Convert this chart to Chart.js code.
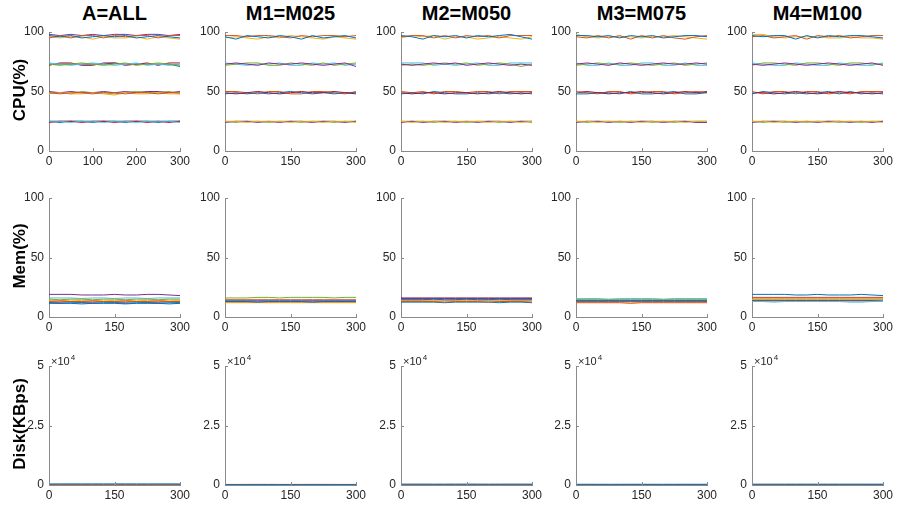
<!DOCTYPE html>
<html>
<head>
<meta charset="utf-8">
<script src="https://cdn.jsdelivr.net/npm/chart.js@4.4.1/dist/chart.umd.min.js"></script>
<style>
  body { margin: 0; background: #fff; }
  #page { position: relative; width: 897px; height: 507px; overflow: hidden; font-family: "Liberation Sans", Arial, sans-serif; }
  .title { position: absolute; font-weight: bold; font-size: 20px; color: #000; text-align: center; width: 160px; }
  .rowlab { position: absolute; font-weight: bold; font-size: 17px; color: #000; white-space: nowrap; transform: translate(-50%, -50%) rotate(-90deg); }
  canvas { position: absolute; }
</style>
</head>
<body>
<div id="page"></div>
<script>
// x positions of the samples (seconds)
const xVals = [0, 25, 50, 75, 100, 125, 150, 175, 200, 225, 250, 275, 300];

const colNames = ['A=ALL', 'M1=M025', 'M2=M050', 'M3=M075', 'M4=M100'];
const rowNames = ['CPU(%)', 'Mem(%)', 'Disk(KBps)'];
const cpuXStep = [100, 150, 150, 150, 150];

// CPU(%) - one array of lines per panel
const cpuAll = [
  [97, 96, 97, 95, 96, 97, 96, 97, 95, 96, 97, 96, 95],
  [95, 97, 95, 97, 97, 95, 97, 96, 97, 97, 95, 97, 97],
  [96, 95, 96, 96, 94, 96, 95, 95, 96, 94, 96, 95, 94],
  [98, 97, 98, 97, 98, 97, 98, 98, 97, 98, 98, 97, 98],
  [73, 72, 73, 74, 73, 72, 73, 74, 72, 73, 74, 73, 72],
  [74, 73, 72, 73, 74, 73, 72, 73, 74, 72, 73, 72, 73],
  [72, 74, 74, 72, 72, 74, 74, 72, 73, 74, 72, 74, 74],
  [73, 73, 73, 73, 73, 73, 74, 73, 73, 73, 73, 73, 71],
  [49, 48, 49, 49, 48, 49, 49, 48, 49, 49, 48, 49, 49],
  [48, 49, 48, 48, 49, 48, 47, 49, 48, 48, 49, 48, 48],
  [50, 49, 50, 49, 49, 50, 49, 50, 49, 50, 50, 49, 50],
  [49, 49, 48, 50, 49, 49, 48, 49, 50, 49, 49, 50, 48],
  [25, 25, 24, 25, 25, 24, 25, 25, 24, 25, 25, 25, 24],
  [24, 25, 25, 24, 25, 25, 24, 25, 25, 24, 25, 24, 25],
  [25, 24, 25, 25, 24, 25, 25, 24, 25, 25, 24, 25, 25],
  [25, 25, 25, 25, 25, 25, 25, 25, 25, 25, 25, 25, 25]
];
const cpuM025 = [
  [96, 94, 97, 96, 95, 97, 96, 94, 97, 95, 96, 97, 95],
  [97, 97, 96, 97, 97, 96, 95, 97, 96, 97, 97, 96, 97],
  [95, 96, 95, 94, 96, 95, 97, 96, 95, 94, 96, 95, 94],
  [73, 74, 73, 72, 74, 73, 73, 74, 73, 72, 73, 74, 71],
  [72, 73, 74, 74, 72, 72, 74, 73, 72, 74, 72, 73, 74],
  [74, 73, 72, 73, 73, 74, 72, 72, 74, 73, 74, 72, 73],
  [49, 48, 49, 50, 49, 48, 49, 50, 49, 49, 50, 49, 48],
  [48, 49, 48, 49, 48, 49, 50, 49, 48, 49, 48, 49, 49],
  [50, 50, 49, 48, 50, 50, 48, 48, 50, 50, 49, 48, 50],
  [25, 25, 24, 25, 25, 25, 24, 25, 25, 24, 25, 25, 24],
  [24, 25, 25, 24, 25, 24, 25, 25, 24, 25, 25, 24, 25],
  [25, 24, 25, 25, 24, 25, 25, 24, 25, 25, 24, 25, 25]
];
const cpuM050 = [
  [97, 96, 94, 97, 96, 97, 95, 97, 96, 97, 98, 96, 94],
  [96, 97, 97, 95, 97, 95, 97, 96, 97, 95, 97, 97, 97],
  [95, 97, 96, 97, 94, 96, 96, 94, 95, 96, 95, 94, 96],
  [73, 72, 73, 74, 73, 74, 72, 73, 74, 73, 72, 73, 72],
  [72, 73, 72, 73, 74, 73, 74, 72, 73, 74, 73, 71, 73],
  [74, 74, 74, 72, 73, 72, 73, 74, 72, 72, 74, 74, 74],
  [49, 48, 49, 49, 48, 49, 49, 48, 49, 50, 49, 48, 49],
  [48, 49, 48, 50, 49, 48, 48, 49, 48, 49, 48, 49, 48],
  [50, 49, 50, 48, 50, 50, 49, 50, 50, 48, 50, 50, 50],
  [25, 24, 25, 25, 24, 25, 25, 25, 24, 25, 25, 24, 25],
  [24, 25, 24, 25, 25, 24, 25, 24, 25, 25, 24, 25, 25],
  [25, 25, 25, 24, 25, 25, 24, 25, 25, 24, 25, 25, 24]
];
const cpuM075 = [
  [97, 97, 96, 97, 95, 97, 96, 97, 95, 96, 97, 97, 96],
  [96, 95, 97, 95, 97, 94, 97, 95, 97, 95, 94, 96, 97],
  [98, 96, 95, 96, 96, 96, 95, 96, 96, 97, 96, 95, 94],
  [73, 74, 73, 72, 74, 73, 72, 73, 74, 73, 73, 74, 73],
  [72, 73, 74, 73, 73, 74, 73, 72, 73, 74, 72, 73, 74],
  [74, 72, 72, 74, 72, 72, 74, 74, 72, 72, 74, 72, 72],
  [49, 50, 49, 48, 49, 49, 50, 49, 48, 49, 50, 49, 50],
  [48, 48, 49, 49, 48, 50, 48, 48, 49, 50, 48, 48, 49],
  [50, 49, 48, 50, 50, 48, 49, 50, 50, 48, 49, 50, 49],
  [25, 25, 24, 25, 25, 25, 24, 25, 25, 25, 24, 25, 25],
  [24, 25, 25, 24, 25, 24, 25, 25, 24, 25, 25, 24, 24],
  [25, 24, 25, 25, 24, 25, 25, 24, 25, 24, 25, 25, 25]
];
const cpuM100 = [
  [97, 96, 97, 97, 94, 97, 95, 97, 96, 97, 97, 96, 95],
  [96, 97, 95, 96, 97, 94, 97, 96, 97, 95, 96, 97, 97],
  [98, 98, 96, 95, 96, 96, 96, 95, 95, 96, 95, 95, 94],
  [73, 72, 73, 74, 73, 72, 73, 74, 73, 72, 73, 74, 72],
  [72, 74, 74, 73, 72, 74, 74, 73, 72, 74, 74, 73, 73],
  [74, 73, 72, 72, 74, 73, 72, 72, 74, 73, 72, 72, 74],
  [49, 49, 48, 49, 50, 49, 48, 49, 50, 49, 49, 48, 49],
  [48, 50, 49, 48, 49, 48, 49, 50, 48, 50, 48, 49, 48],
  [50, 48, 50, 50, 48, 50, 50, 48, 49, 48, 50, 50, 50],
  [25, 25, 24, 25, 25, 25, 25, 24, 25, 25, 25, 25, 24],
  [24, 25, 25, 25, 24, 25, 24, 25, 25, 24, 25, 24, 25],
  [25, 24, 25, 24, 25, 24, 25, 25, 24, 25, 24, 25, 25]
];

// Mem(%)
const memAll = [
  [12, 11.5, 12, 12, 11.5, 12, 12, 11.5, 12, 12, 11.5, 12, 12],
  [13, 13.5, 13, 13, 13.5, 13, 13, 13.5, 13, 13, 13.5, 13, 13],
  [14, 14, 13.5, 14, 14, 13.5, 14, 14, 13.5, 14, 14, 13.5, 14],
  [19, 19, 19, 18.5, 18.5, 18.5, 19, 18.5, 18.5, 19, 19, 18.5, 18],
  [15, 14.5, 15, 15, 14.5, 15, 15, 14.5, 15, 15, 14.5, 15, 15],
  [16, 16, 16, 15.5, 16, 16, 15.5, 16, 16, 15.5, 16, 16, 16],
  [12.5, 12.5, 13, 12.5, 12.5, 13, 12.5, 12.5, 13, 12.5, 12.5, 13, 12.5],
  [11.5, 11.5, 11.5, 11, 11.5, 11.5, 11.5, 11, 11.5, 11.5, 11.5, 11, 11.5]
];
const memM025 = [
  [13, 13, 13, 12.5, 13, 13, 13, 13, 12.5, 13, 13, 13, 13],
  [14.5, 14.5, 14.5, 14.5, 14.5, 14.5, 14.5, 14.5, 14.5, 14.5, 14.5, 14.5, 14.5],
  [12, 12, 12, 12, 12, 12, 12, 12, 12, 12, 12, 12, 12],
  [13.5, 13.5, 13.5, 13.5, 13.5, 13.5, 13.5, 13.5, 13.5, 13.5, 13.5, 13.5, 13.5],
  [16, 16, 16, 16.5, 16.5, 16, 16.5, 16.5, 16.5, 16.5, 16, 16.5, 16.5],
  [14, 14, 14, 14, 14, 14, 14, 14, 14, 14, 14, 14, 14],
  [12.5, 12.5, 12.5, 12.5, 12.5, 12.5, 12.5, 12.5, 12.5, 12.5, 12.5, 12.5, 12.5]
];
const memM050 = [
  [14.5, 14.5, 14.5, 15, 14.5, 14.5, 15, 14.5, 14.5, 15, 14.5, 14.5, 14.5],
  [13, 13, 13, 13, 12.5, 13, 13, 13, 12.5, 13, 13, 13, 12.5],
  [14, 14, 14, 14, 14, 14, 14, 14, 14, 14, 14, 14, 14],
  [15.5, 15.5, 15.5, 15.5, 15.5, 15.5, 15.5, 15.5, 15.5, 15.5, 15.5, 15.5, 15.5],
  [15, 15, 15, 15, 15.5, 15, 15, 15, 15, 15, 15, 15, 15],
  [13.5, 13.5, 13.5, 13.5, 13.5, 13.5, 13.5, 13.5, 13.5, 13.5, 13.5, 13.5, 13.5],
  [16, 16, 16, 16, 16, 16, 16, 16, 16, 16, 16, 16, 16],
  [12.5, 12.5, 12.5, 12.5, 12, 12.5, 12.5, 12.5, 12.5, 12, 12.5, 12.5, 12]
];
const memM075 = [
  [13.5, 13.5, 13.5, 13.5, 13.5, 13.5, 13.5, 13.5, 13.5, 13.5, 13.5, 13.5, 13.5],
  [12, 12, 12, 12, 12, 11.5, 12, 12, 12, 12, 12, 12, 12],
  [12.5, 12.5, 12.5, 12.5, 12.5, 12.5, 12.5, 12.5, 12.5, 12.5, 12.5, 12.5, 12.5],
  [13, 13, 13, 13, 13, 13, 13, 13, 13, 13, 13, 13, 13],
  [14.5, 14.5, 14.5, 14.5, 14.5, 14.5, 14.5, 14.5, 14.5, 14.5, 14.5, 14.5, 14.5],
  [15.5, 15.5, 15.5, 15, 15.5, 15.5, 15.5, 15.5, 15, 15.5, 15.5, 15.5, 15.5],
  [14, 14, 14, 14, 14, 14, 14, 14, 14, 14, 14, 14, 14]
];
const memM100 = [
  [19, 19, 19, 19, 18.5, 18.5, 19, 18.5, 18.5, 18.5, 19, 18.5, 18],
  [16.5, 16.5, 16.5, 16.5, 16.5, 16.5, 16.5, 16.5, 16.5, 16.5, 16.5, 16.5, 16.5],
  [15, 15, 15, 15, 15, 15, 15, 15, 15, 15, 15, 15, 15],
  [16, 16, 16, 16, 16, 16, 16, 16, 16, 16, 16, 16, 16],
  [14.5, 14.5, 14.5, 14.5, 14.5, 14.5, 14.5, 14.5, 14.5, 14.5, 14.5, 14.5, 14.5],
  [13, 13, 12.5, 13, 13, 13, 13, 13, 13, 12.5, 12.5, 13, 13],
  [14, 14, 14, 14, 14, 14, 14, 14, 14, 14, 14, 14, 14.5],
  [13.5, 13.5, 13.5, 13.5, 13.5, 13.5, 13.5, 13.5, 13.5, 13.5, 13.5, 13.5, 13.5]
];

// Disk(KBps)
const diskAll = [
  [450, 440, 460, 450, 450, 440, 450, 460, 450, 440, 450, 450, 450],
  [250, 260, 250, 240, 250, 260, 250, 250, 240, 250, 260, 250, 250],
  [150, 150, 160, 150, 140, 150, 150, 160, 150, 150, 140, 150, 150]
];
const diskM025 = [
  [150, 150, 140, 150, 160, 150, 150, 140, 150, 160, 150, 150, 150],
  [250, 240, 250, 260, 250, 250, 240, 250, 260, 250, 250, 240, 250],
  [100, 110, 100, 100, 90, 100, 110, 100, 100, 90, 100, 100, 100]
];
const diskM050 = [
  [350, 360, 350, 340, 350, 350, 360, 350, 340, 350, 360, 350, 350],
  [250, 250, 260, 250, 240, 250, 250, 260, 250, 240, 250, 250, 250],
  [150, 140, 150, 160, 150, 150, 140, 150, 160, 150, 150, 140, 150]
];
const diskM075 = [
  [300, 310, 300, 290, 300, 310, 300, 300, 290, 300, 310, 300, 300],
  [200, 200, 210, 200, 190, 200, 200, 210, 200, 190, 200, 200, 200],
  [100, 100, 90, 100, 110, 100, 100, 90, 100, 110, 100, 100, 100]
];
const diskM100 = [
  [350, 340, 350, 360, 350, 350, 340, 350, 360, 350, 350, 340, 350],
  [220, 230, 220, 210, 220, 230, 220, 220, 210, 220, 230, 220, 220],
  [120, 120, 130, 120, 110, 120, 120, 130, 120, 110, 120, 120, 120]
];

const cpuPanels = [cpuAll, cpuM025, cpuM050, cpuM075, cpuM100];
const memPanels = [memAll, memM025, memM050, memM075, memM100];
const diskPanels = [diskAll, diskM025, diskM050, diskM075, diskM100];

// layout (pixels) and styles
const matlabColors = ['#0072BD', '#D95319', '#EDB120', '#7E2F8E', '#77AC30', '#4DBEEE', '#A2142F'];
const axisColor = '#8a8a8a';
const textColor = '#262626';
const colLeft = [49, 225, 401, 576, 752];
const rowTop = [32, 198, 366];
const plotW = 131, plotH = 119;
const yAxisW = 45, xAxisH = 24, padTop = 14, padRight = 16;

Chart.defaults.font.family = '"Liberation Sans", Arial, sans-serif';
Chart.defaults.font.size = 12;
Chart.defaults.color = textColor;

const inwardTicks = {
  id: 'inwardTicks',
  afterDraw(chart) {
    const { ctx, chartArea: a, scales: { x, y } } = chart;
    ctx.save();
    ctx.strokeStyle = axisColor;
    ctx.lineWidth = 1;
    ctx.beginPath();
    x.ticks.forEach(t => {
      const px = Math.round(x.getPixelForValue(t.value)) + 0.5;
      ctx.moveTo(px, a.bottom);
      ctx.lineTo(px, a.bottom - 3);
    });
    y.ticks.forEach(t => {
      const py = Math.round(y.getPixelForValue(t.value)) + 0.5;
      ctx.moveTo(a.left, py);
      ctx.lineTo(a.left + 3, py);
    });
    ctx.stroke();
    ctx.restore();
  }
};

const expLabel = {
  id: 'expLabel',
  afterDraw(chart, args, opts) {
    if (!opts.show) return;
    const { ctx, chartArea: a } = chart;
    ctx.save();
    ctx.fillStyle = textColor;
    ctx.textBaseline = 'alphabetic';
    ctx.font = '11px "Liberation Sans", Arial, sans-serif';
    ctx.fillText('\u00d710', a.left + 2, a.top - 1);
    const w = ctx.measureText('\u00d710').width;
    ctx.font = '8px "Liberation Sans", Arial, sans-serif';
    ctx.fillText('4', a.left + 3 + w, a.top - 6);
    ctx.restore();
  }
};

const page = document.getElementById('page');

function addPanel(row, col, lines, yMax, yStep, xStep, isDisk) {
  const cv = document.createElement('canvas');
  const w = yAxisW + plotW + padRight;
  const h = padTop + plotH + xAxisH;
  cv.width = w; cv.height = h;
  cv.style.left = (colLeft[col] - yAxisW) + 'px';
  cv.style.top = (rowTop[row] - padTop) + 'px';
  cv.style.width = w + 'px';
  cv.style.height = h + 'px';
  page.appendChild(cv);

  const datasets = lines.map((ys, i) => ({
    data: ys.map((v, k) => ({ x: xVals[k], y: v })),
    borderColor: matlabColors[i % matlabColors.length],
    borderWidth: 1,
    pointRadius: 0,
    tension: 0,
    fill: false
  }));

  new Chart(cv, {
    type: 'line',
    data: { datasets },
    options: {
      responsive: false,
      animation: false,
      layout: { padding: { top: padTop, right: padRight, left: 0, bottom: 0 } },
      plugins: { legend: { display: false }, tooltip: { enabled: false }, expLabel: { show: isDisk } },
      scales: {
        x: {
          type: 'linear', min: 0, max: 300,
          afterFit: s => { s.height = xAxisH; },
          ticks: { stepSize: xStep, maxRotation: 0, autoSkip: false, padding: 3 },
          grid: { display: true, drawOnChartArea: false, drawTicks: false },
          border: { display: true, color: axisColor, width: 1 }
        },
        y: {
          min: 0, max: yMax,
          afterFit: s => { s.width = yAxisW; },
          ticks: {
            stepSize: yStep, padding: 5,
            callback: v => isDisk ? String(v / 10000) : String(v)
          },
          grid: { display: true, drawOnChartArea: false, drawTicks: false },
          border: { display: true, color: axisColor, width: 1 }
        }
      }
    },
    plugins: [inwardTicks, expLabel]
  });
}

colNames.forEach((name, c) => {
  const t = document.createElement('div');
  t.className = 'title';
  t.textContent = name;
  t.style.left = (colLeft[c] + plotW / 2 - 80) + 'px';
  t.style.top = '2px';
  page.appendChild(t);

  addPanel(0, c, cpuPanels[c], 100, 50, cpuXStep[c], false);
  addPanel(1, c, memPanels[c], 100, 50, 150, false);
  addPanel(2, c, diskPanels[c], 50000, 25000, 150, true);
});

rowNames.forEach((name, r) => {
  const l = document.createElement('div');
  l.className = 'rowlab';
  l.textContent = name;
  l.style.left = '20px';
  l.style.top = (rowTop[r] + plotH / 2 - 2) + 'px';
  page.appendChild(l);
});
</script>
</body>
</html>
